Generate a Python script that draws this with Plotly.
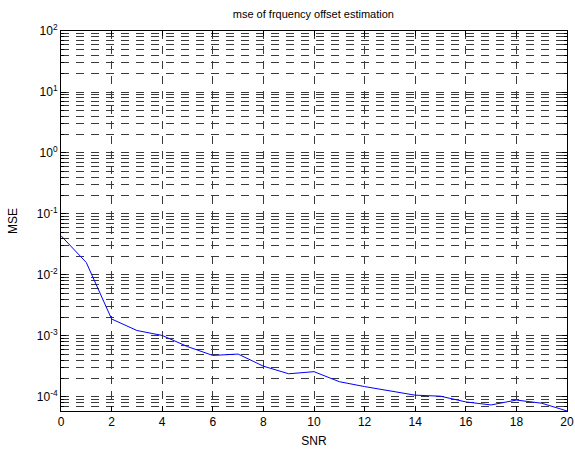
import plotly.graph_objects as go

snr = list(range(0, 21))
mse = [0.044, 0.016, 0.0019, 0.00123, 0.00102, 0.00067, 0.00048, 0.000505,
       0.00032, 0.00024, 0.00026, 0.000178, 0.000148, 0.000126, 0.000107,
       0.000103, 0.000083, 0.000074, 0.000089, 0.000079, 0.000059]

exps = [-4, -3, -2, -1, 0, 1, 2]
ytick_vals = [10.0 ** e for e in exps]
ytick_text = ["10<sup>%d</sup>" % e for e in exps]
minor_vals = [k * 10.0 ** e for e in range(-5, 2) for k in range(2, 10)]

fnt = "Liberation Sans, Arial, sans-serif"
dash = "8px,7px"
gcol = "#3a3a3a"

fig = go.Figure()
fig.add_trace(go.Scatter(
    x=snr, y=mse, mode="lines",
    line=dict(color="#0000ff", width=1),
    showlegend=False,
))

fig.update_layout(
    width=575, height=453,
    margin=dict(l=61, r=8, t=31, b=42, autoexpand=False),
    paper_bgcolor="white", plot_bgcolor="white",
    font=dict(family=fnt, size=12, color="black"),
    title=dict(text="mse of frquency offset estimation", x=0.545, xanchor="center",
               y=0.978, yanchor="top", font=dict(size=11)),
)
fig.update_xaxes(
    range=[0, 20], dtick=2, tick0=0, automargin=False,
    showline=True, linecolor="black", linewidth=1, mirror="ticks",
    ticks="inside", ticklen=5, tickcolor="black",
    tickfont=dict(size=12),
    showgrid=True, gridcolor=gcol, gridwidth=1, griddash=dash,
    zeroline=False,
    title=dict(text="SNR", standoff=8, font=dict(size=12)),
)
fig.update_yaxes(
    type="log", range=[-4.23, 2], automargin=False,
    tickmode="array", tickvals=ytick_vals, ticktext=ytick_text,
    showline=True, linecolor="black", linewidth=1, mirror="ticks",
    ticks="inside", ticklen=5, tickcolor="black",
    tickfont=dict(size=12),
    showgrid=True, gridcolor=gcol, gridwidth=1, griddash=dash,
    minor=dict(tickmode="array", tickvals=minor_vals,
               ticks="inside", ticklen=3, tickcolor="black",
               showgrid=True, gridcolor=gcol, gridwidth=1, griddash=dash),
    zeroline=False,
    title=dict(text="MSE", standoff=16, font=dict(size=12)),
)

fig.write_html("out.html", config={"displayModeBar": False},
               post_script="document.body.style.margin='0';")
